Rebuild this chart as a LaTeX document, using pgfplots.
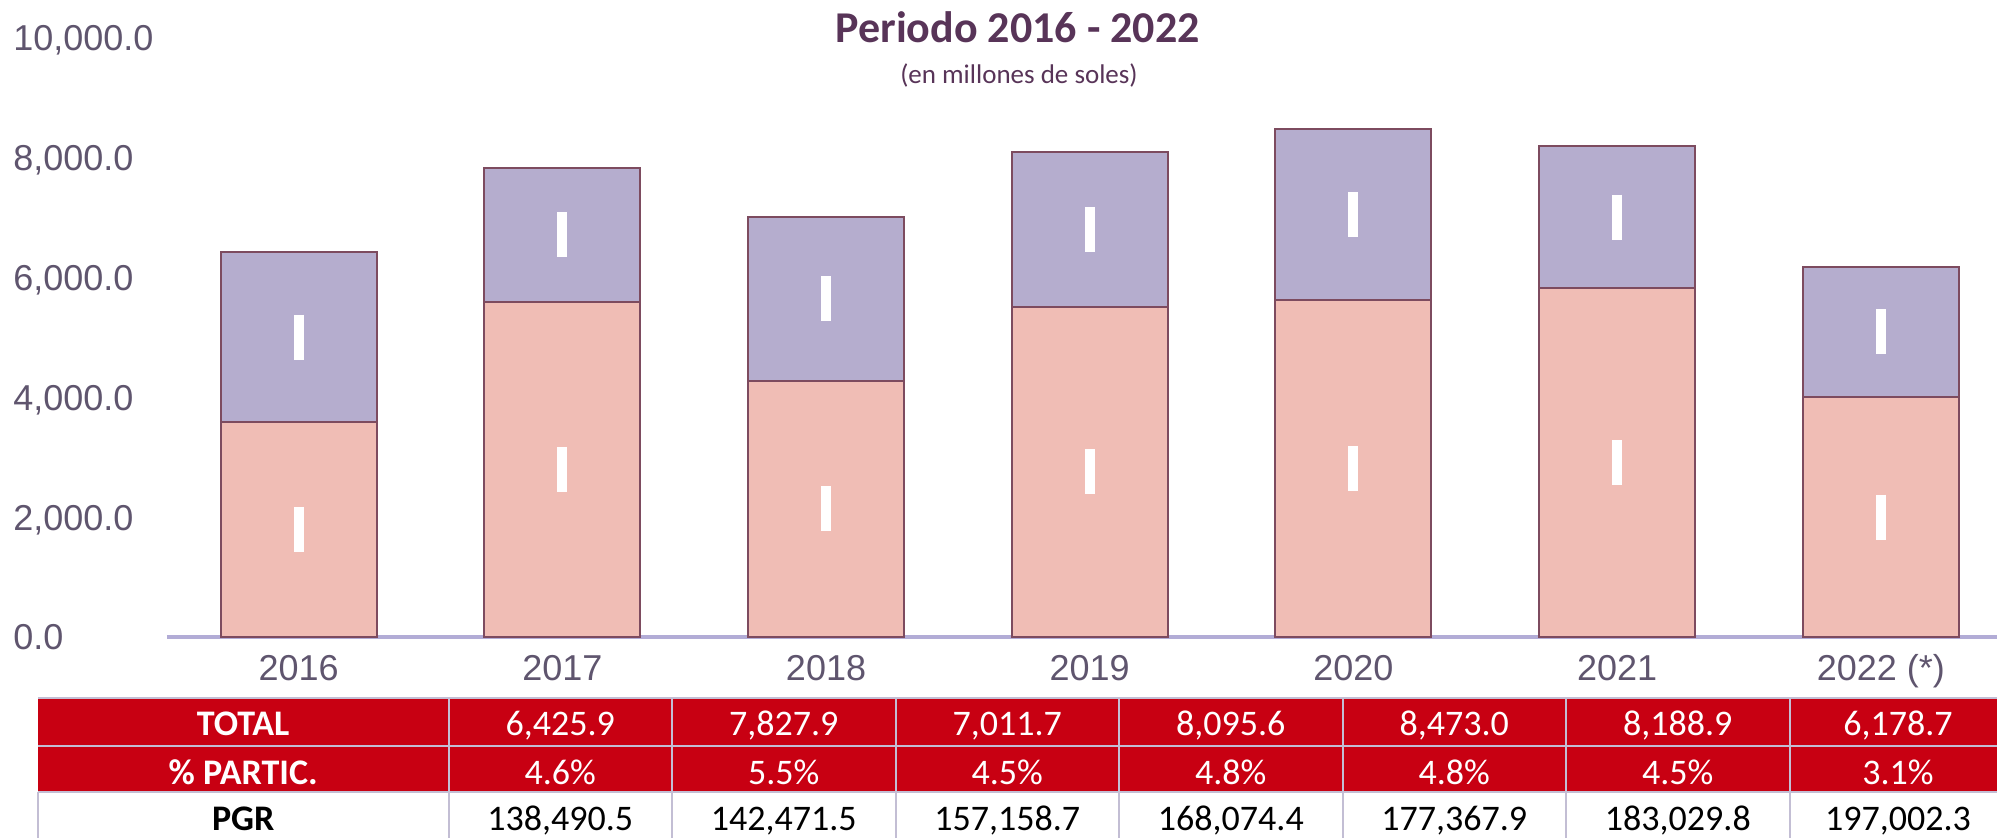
\documentclass[border=0pt]{standalone}
\usepackage{pgfplots}
\pgfplotsset{compat=1.18}
\usepackage{fontspec}
\setmainfont{Liberation Sans}
\newfontfamily\calibri{Carlito}
\definecolor{barTop}{RGB}{181,173,206}
\definecolor{barBot}{RGB}{240,189,181}
\definecolor{barEdge}{RGB}{125,75,95}
\definecolor{tickcol}{RGB}{95,85,110}
\definecolor{titlecol}{RGB}{88,52,88}
\definecolor{axiscol}{RGB}{178,172,214}
\definecolor{tabred}{RGB}{200,0,18}
\definecolor{tabline}{RGB}{195,190,212}
\newcommand\cell[4]{\node[anchor=base, text=#3, font=\calibri\fontsize{18}{20}\selectfont] at (#1pt,#2pt) {#4};}
\begin{document}
\begin{tikzpicture}
\useasboundingbox (0,0) rectangle (998.5pt,-419pt);
\begin{axis}[
  at={(83.4pt,-318.5pt)}, anchor=south west,
  scale only axis, width=915pt, height=299.5pt,
  xmin=-0.5, xmax=6.44, ymin=0, ymax=10000,
  ybar stacked, bar width=78pt,
  axis x line*=bottom, axis y line*=left,
  x axis line style={draw=axiscol, line width=1.75pt, -},
  y axis line style={draw=none},
  xtick={0,...,6},
  xticklabels={2016,2017,2018,2019,2020,2021,{2022 (*)}},
  ytick={0,2000,...,10000},
  major tick length=0pt,
  tick style={draw=none},
  scaled y ticks=false,
  yticklabel style={anchor=base west, xshift=-76.9pt, yshift=-6.45pt, inner xsep=0pt, text=tickcol, font=\fontsize{18}{20}\selectfont, /pgf/number format/.cd, fixed, fixed zerofill, precision=1, 1000 sep={,}, assume math mode=true},
  xticklabel style={anchor=base, yshift=-22pt, text=tickcol, font=\fontsize{18}{20}\selectfont},
  clip=false,
]
\addplot[fill=barBot, draw=barEdge, line width=1pt] coordinates {(0,3590) (1,5600) (2,4280) (3,5510) (4,5630) (5,5826) (6,4005)};
\addplot[fill=barTop, draw=barEdge, line width=1pt] coordinates {(0,2835.9) (1,2227.9) (2,2731.7) (3,2585.6) (4,2843.0) (5,2362.9) (6,2173.7)};
\end{axis}
\begin{axis}[
  at={(83.4pt,-318.5pt)}, anchor=south west,
  scale only axis, width=915pt, height=299.5pt,
  xmin=-0.5, xmax=6.44, ymin=0, ymax=10000,
  hide axis, clip=false,
]
\addplot[only marks, mark=|, mark size=11.25pt, mark options={draw=white, line width=5pt}] coordinates {
(0,1795) (1,2800) (2,2140) (3,2755) (4,2815) (5,2913) (6,2002.5)
(0,5008) (1,6714) (2,5646) (3,6803) (4,7051.5) (5,7007.5) (6,5092)};
\end{axis}
% title
\node[anchor=base, text=titlecol, font=\calibri\bfseries\fontsize{22}{26}\selectfont] at (508.8pt,-21.5pt) {Periodo 2016 - 2022};
\node[anchor=base, text=titlecol, font=\calibri\fontsize{13.5}{16}\selectfont] at (509.5pt,-42pt) {(en millones de soles)};
% table
\fill[tabred] (19pt,-349pt) rectangle (1000pt,-396pt);
\draw[tabline, line width=0.8pt] (19pt,-349pt) -- (1000pt,-349pt);
\draw[tabline, line width=1pt] (19pt,-373pt) -- (1000pt,-373pt);
\draw[tabline, line width=0.8pt] (19pt,-396pt) -- (1000pt,-396pt);
\foreach \xx in {224.25,336,447.75,559.5,671.25,783,894.75} {
  \draw[tabline, line width=1pt] (\xx pt,-349pt) -- (\xx pt,-425pt);
}
\draw[tabline, line width=1pt] (19pt,-396pt) -- (19pt,-425pt);
\node[anchor=base, text=white, font=\calibri\bfseries\fontsize{18}{20}\selectfont] at (121.6pt,-368pt) {TOTAL};
\node[anchor=base, text=white, font=\calibri\bfseries\fontsize{18}{20}\selectfont] at (121.6pt,-392pt) {\% PARTIC.};
\node[anchor=base, text=black, font=\calibri\bfseries\fontsize{18}{20}\selectfont] at (121.6pt,-415pt) {PGR};
\cell{280.1}{-368}{white}{6,425.9}
\cell{391.9}{-368}{white}{7,827.9}
\cell{503.6}{-368}{white}{7,011.7}
\cell{615.4}{-368}{white}{8,095.6}
\cell{727.1}{-368}{white}{8,473.0}
\cell{838.9}{-368}{white}{8,188.9}
\cell{949.0}{-368}{white}{6,178.7}
\cell{280.1}{-392}{white}{4.6\%}
\cell{391.9}{-392}{white}{5.5\%}
\cell{503.6}{-392}{white}{4.5\%}
\cell{615.4}{-392}{white}{4.8\%}
\cell{727.1}{-392}{white}{4.8\%}
\cell{838.9}{-392}{white}{4.5\%}
\cell{949.0}{-392}{white}{3.1\%}
\cell{280.1}{-415}{black}{138,490.5}
\cell{391.9}{-415}{black}{142,471.5}
\cell{503.6}{-415}{black}{157,158.7}
\cell{615.4}{-415}{black}{168,074.4}
\cell{727.1}{-415}{black}{177,367.9}
\cell{838.9}{-415}{black}{183,029.8}
\cell{949.0}{-415}{black}{197,002.3}
\end{tikzpicture}
\end{document}
